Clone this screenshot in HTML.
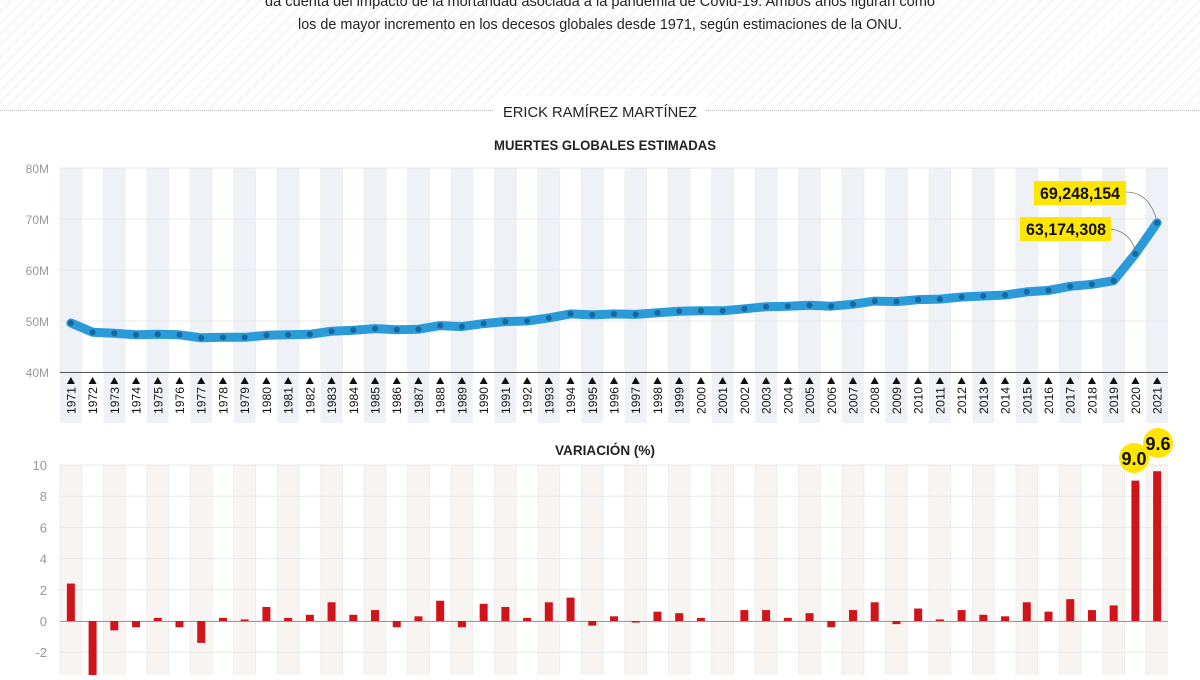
<!DOCTYPE html>
<html><head><meta charset="utf-8">
<style>
html,body{margin:0;padding:0;background:#fff;}
body{width:1200px;height:675px;overflow:hidden;font-family:"Liberation Sans",sans-serif;}
</style></head><body>
<svg id="s" width="1200" height="675" xmlns="http://www.w3.org/2000/svg">
<defs>
<pattern id="h" width="8" height="8" patternUnits="userSpaceOnUse" patternTransform="rotate(45)">
<rect width="8" height="8" fill="#fff"/><line x1="0" y1="0" x2="0" y2="8" stroke="#ececec" stroke-width="1.5"/>
</pattern>
</defs>
<rect x="0" y="0" width="1200" height="110" fill="url(#h)"/>
<line x1="0" y1="110.5" x2="1200" y2="110.5" stroke="#bbb" stroke-dasharray="1,1"/>
<rect x="494" y="96" width="212" height="30" fill="#fff"/>
<g font-family="Liberation Sans, sans-serif" fill="#222">
<text x="265" y="6" font-size="15" textLength="670" lengthAdjust="spacingAndGlyphs">da cuenta del impacto de la mortandad asociada a la pandemia de Covid-19. Ambos años figuran como</text>
<text x="298" y="29" font-size="15" textLength="604" lengthAdjust="spacingAndGlyphs">los de mayor incremento en los decesos globales desde 1971, según estimaciones de la ONU.</text>
<text x="503" y="117" font-size="15" textLength="194" lengthAdjust="spacingAndGlyphs">ERICK RAMÍREZ MARTÍNEZ</text>
<text x="494" y="150" font-size="14" font-weight="bold" textLength="222" lengthAdjust="spacingAndGlyphs">MUERTES GLOBALES ESTIMADAS</text>
<text x="555" y="455" font-size="14" font-weight="bold" textLength="100" lengthAdjust="spacingAndGlyphs">VARIACIÓN (%)</text>
</g>
<g id="g"></g>
</svg>
<script>
const g=document.getElementById('g');let o='';
const x0=60,W=(1168-60)/51,cx=i=>x0+W*(i+0.5);
const vals=[49.6,47.8,47.6,47.3,47.4,47.3,46.7,46.8,46.8,47.2,47.3,47.4,48.0,48.2,48.5,48.3,48.4,49.1,48.9,49.5,49.9,50.0,50.6,51.4,51.2,51.4,51.3,51.6,51.9,52.0,52.0,52.4,52.8,52.9,53.1,52.9,53.3,53.9,53.8,54.2,54.3,54.7,54.9,55.1,55.7,56.0,56.8,57.2,57.9,63.17,69.25];
const vr=[2.4,-3.6,-0.6,-0.4,0.2,-0.4,-1.4,0.2,0.1,0.9,0.2,0.4,1.2,0.4,0.7,-0.4,0.3,1.3,-0.4,1.1,0.9,0.2,1.2,1.5,-0.3,0.3,-0.1,0.6,0.5,0.2,0,0.7,0.7,0.2,0.5,-0.4,0.7,1.2,-0.2,0.8,0.1,0.7,0.4,0.3,1.2,0.6,1.4,0.7,1.0,9.0,9.6];
const ty=v=>372-(v-40)*5.1, by=v=>621-v*15.6;
for(let i=0;i<51;i++){const x=x0+W*i;
 if(i%2==0){o+=`<rect x="${x}" y="168" width="${W}" height="255" fill="#eef1f5"/>`;
 o+=`<rect x="${x}" y="465" width="${W}" height="210" fill="#f8f4f1"/>`;}
 o+=`<line x1="${x}" y1="465" x2="${x}" y2="675" stroke="#eee"/>`;
 o+=`<line x1="${x}" y1="168" x2="${x}" y2="372" stroke="#eee"/>`;
}
[80,70,60,50,40].forEach(v=>{o+=`<line x1="60" y1="${ty(v)}" x2="1168" y2="${ty(v)}" stroke="#e8e8e8"/><text x="49" y="${ty(v)+5}" font-size="12" fill="#999" text-anchor="end">${v}M</text>`;});
[10,8,6,4,2,0,-2].forEach(v=>{o+=`<line x1="60" y1="${by(v)}" x2="1168" y2="${by(v)}" stroke="#e8e8e8"/><text x="47" y="${by(v)+5}" font-size="13" fill="#999" text-anchor="end">${v}</text>`;});
o+=`<line x1="60" y1="372.5" x2="1168" y2="372.5" stroke="#555"/>`;
o+=`<line x1="60" y1="621.5" x2="1168" y2="621.5" stroke="#999"/>`;
for(let i=0;i<51;i++){const x=cx(i);
 o+=`<path d="M${x-4} 384 L${x+4} 384 L${x} 377Z" fill="#111"/>`;
 o+=`<text transform="translate(${x+4.5},387) rotate(-90)" font-size="12" fill="#111" text-anchor="end" textLength="27" lengthAdjust="spacingAndGlyphs">${1971+i}</text>`;
 const v=vr[i],y=by(Math.max(v,0)),h=Math.abs(v)*15.6;
 if(h>0)o+=`<rect x="${x-4}" y="${y}" width="8" height="${h}" fill="#d0141c"/>`;
}
let p=vals.map((v,i)=>`${cx(i).toFixed(1)},${ty(v).toFixed(1)}`).join(' ');
o+=`<polyline points="${p}" fill="none" stroke="#2a9ad8" stroke-width="9" stroke-linejoin="round" stroke-linecap="round"/>`;
vals.forEach((v,i)=>o+=`<circle cx="${cx(i)}" cy="${ty(v)}" r="3" fill="#14679f"/>`);
o+=`<path d="M1126 192 Q1148 192 1156 218" fill="none" stroke="#777" stroke-width="0.8"/>`;
o+=`<path d="M1111 229 Q1130 232 1135 250" fill="none" stroke="#777" stroke-width="0.8"/>`;
o+=`<rect x="1034" y="181" width="92" height="24" fill="#ffe600"/><text x="1040" y="199" font-size="17" font-weight="bold" fill="#111" textLength="80" lengthAdjust="spacingAndGlyphs">69,248,154</text>`;
o+=`<rect x="1020" y="217" width="91" height="24" fill="#ffe600"/><text x="1026" y="235" font-size="17" font-weight="bold" fill="#111" textLength="80" lengthAdjust="spacingAndGlyphs">63,174,308</text>`;
o+=`<circle cx="1134" cy="458" r="15" fill="#ffe600"/><text x="1134" y="465" font-size="18" font-weight="bold" text-anchor="middle" fill="#111">9.0</text>`;
o+=`<circle cx="1158" cy="443" r="15" fill="#ffe600"/><text x="1158" y="450" font-size="18" font-weight="bold" text-anchor="middle" fill="#111">9.6</text>`;
g.innerHTML=o;
</script>
</body></html>
